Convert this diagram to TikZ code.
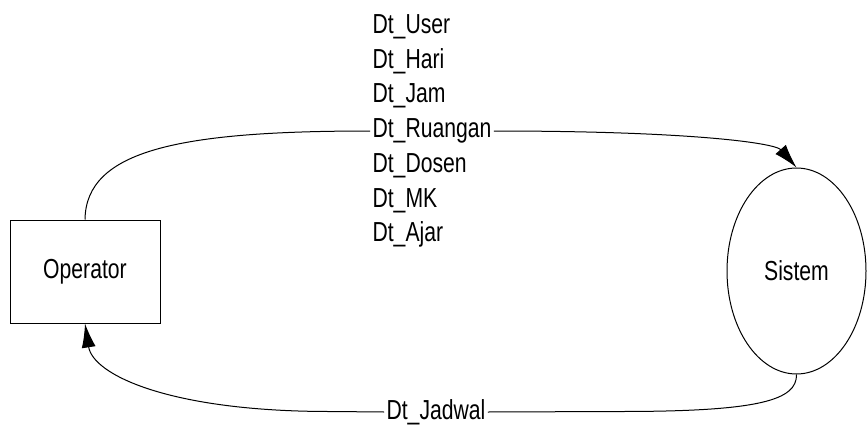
\documentclass[tikz,border=0pt]{standalone}
\usepackage{fontspec}
\setmainfont{Liberation Sans}[FakeStretch=0.77]
\usetikzlibrary{arrows.meta,shapes.geometric}

\begin{document}
\begin{tikzpicture}[x=1pt,y=-1pt,
    line width=1pt,
    lbl/.style={font=\fontsize{27.5}{34.7}\selectfont, text=black},
    entity/.style={draw, rectangle, minimum width=150pt, minimum height=103pt, inner sep=0pt, lbl},
    process/.style={draw, ellipse, minimum width=139pt, minimum height=206pt, inner sep=0pt, lbl},
    flowlabel/.style={lbl, fill=white, inner sep=2pt, align=left},
    flow/.style={-{Latex[length=24pt,width=14pt]}}]

  \useasboundingbox (0,0) rectangle (867,428);

  % external entity and process
  \node[entity]  (op)  at (85,271.5) {Operator};
  \node[process] (sis) at (796.5,271) {Sistem};

  % data flow labels
  \node[flowlabel] (din) at (432,131)
    {Dt\_User\\Dt\_Hari\\Dt\_Jam\\Dt\_Ruangan\\Dt\_Dosen\\Dt\_MK\\Dt\_Ajar};
  \node[flowlabel] (dout) at (436,412) {Dt\_Jadwal};

  % input flow: Operator -> Sistem
  \draw (op.north) .. controls (86,150) and (180,131) .. (din.west);
  \draw[flow] (din.east) .. controls (690,131) and (775,143) .. (sis.north);

  % output flow: Sistem -> Operator
  \draw (sis.south) .. controls (797,400) and (760,411.5) .. (620,411.5) -- (dout.east);
  \draw[flow] (dout.west) -- (330,411.5) .. controls (170,411.5) and (93,375) .. (op.south);
\end{tikzpicture}
\end{document}
